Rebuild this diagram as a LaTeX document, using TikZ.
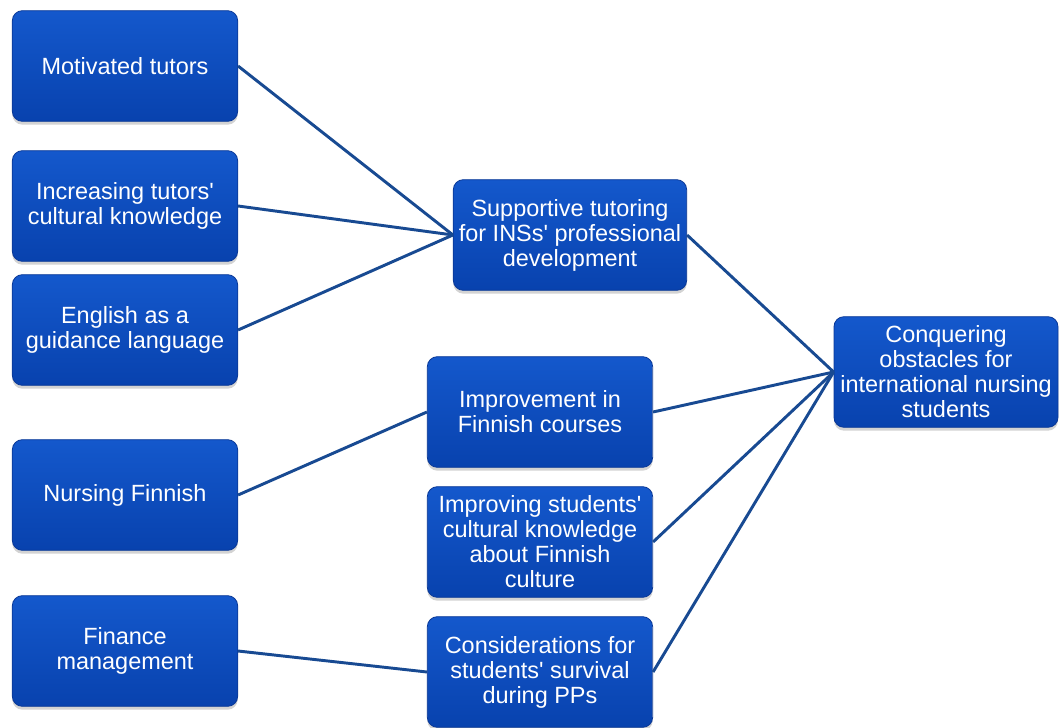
\documentclass[tikz,border=0pt]{standalone}
\usepackage{fontspec}
\setmainfont{Liberation Sans}
\usepackage{xcolor}
\usetikzlibrary{shadows}
\definecolor{themeBlue}{RGB}{14,78,192}
\definecolor{themeBlueTop}{RGB}{20,88,204}
\definecolor{themeBlueLow}{RGB}{8,66,174}
\definecolor{themeEdge}{RGB}{10,56,150}
\definecolor{linkBlue}{RGB}{24,74,146}
\newcommand{\ap}{\textquotesingle}
\tikzset{
  % every box shares one look, only the width changes
  themebox/.style={
    rounded corners=7.5pt,
    top color=themeBlueTop,
    bottom color=themeBlueLow,
    draw=themeEdge,
    line width=0.6pt,
    minimum width=#1,
    minimum height=83pt,
    inner sep=1pt,
    align=center,
    text=white,
    font=\fontsize{17.6}{18.8}\selectfont,
    drop shadow={opacity=0.35,shadow xshift=0pt,shadow yshift=-2.5pt}
  },
  themebox/.default=169pt,
  link/.style={
    draw=linkBlue,
    line width=2.2pt
  }
}

\begin{document}
\begin{tikzpicture}[x=0.75pt,y=-0.75pt]
\useasboundingbox (0,0) rectangle (1060,728);

% left column
\node[themebox] (motiv) at (125,66) {Motivated tutors};
\node[themebox] (cult) at (125,206) {Increasing tutors\ap\\cultural knowledge};
\node[themebox] (engl) at (125,330) {English as a\\guidance language};
\node[themebox] (nursfin) at (125,495) {Nursing Finnish};
\node[themebox] (finance) at (125,651) {Finance\\management};

% middle column
\node[themebox=175pt] (support) at (570,235) {Supportive tutoring\\for INSs\ap\ professional\\development};
\node[themebox] (courses) at (540,412) {Improvement in\\Finnish courses};
\node[themebox] (stucult) at (540,542) {Improving students\ap\\cultural knowledge\\about Finnish\\culture};
\node[themebox] (survival) at (540,672) {Considerations for\\students\ap\ survival\\during PPs};

% right
\node[themebox=168pt] (conquer) at (946,372) {Conquering\\obstacles for\\international nursing\\students};

\begin{scope}[on background layer/.try]
\draw[link] (motiv.east) -- (support.west);
\draw[link] (cult.east) -- (support.west);
\draw[link] (engl.east) -- (support.west);
\draw[link] (nursfin.east) -- (courses.west);
\draw[link] (finance.east) -- (survival.west);
\draw[link] (support.east) -- (conquer.west);
\draw[link] (courses.east) -- (conquer.west);
\draw[link] (stucult.east) -- (conquer.west);
\draw[link] (survival.east) -- (conquer.west);
\end{scope}

\end{tikzpicture}
\end{document}
